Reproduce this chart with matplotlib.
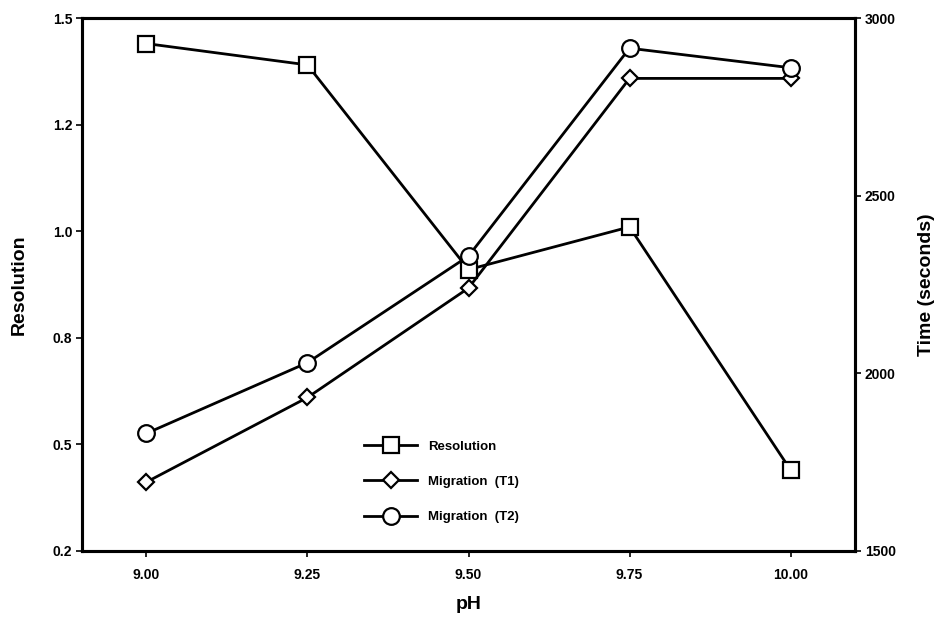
import matplotlib
matplotlib.use("Agg")
import matplotlib.pyplot as plt
from matplotlib.ticker import FormatStrFormatter

ph = [9.00, 9.25, 9.50, 9.75, 10.00]
resolution = [1.44, 1.39, 0.91, 1.01, 0.44]
migration_t1 = [1694, 1932, 2240, 2830, 2830]
migration_t2 = [1831, 2030, 2330, 2915, 2860]

left_ticks = [0.25, 0.5, 0.75, 1.0, 1.25, 1.5]
right_ticks = [1500, 2000, 2500, 3000]
x_ticks = [9.00, 9.25, 9.50, 9.75, 10.00]

plt.rcParams['font.family'] = ['Liberation Sans', 'DejaVu Sans']

fig = plt.figure(figsize=(9.45, 6.18), dpi=100)
ax = fig.add_axes([82/945, 1-551/618, (855-82)/945, (551-18)/618])
ax2 = ax.twinx()

lw = 2.0
l1, = ax.plot(ph, resolution, color='black', lw=lw, marker='s', ms=12,
              mfc='white', mec='black', mew=1.6, label='Resolution', zorder=3)
l2, = ax2.plot(ph, migration_t1, color='black', lw=lw, marker='D', ms=8,
               mfc='white', mec='black', mew=1.6, label='Migration  (T1)', zorder=3)
l3, = ax2.plot(ph, migration_t2, color='black', lw=lw, marker='o', ms=12,
               mfc='white', mec='black', mew=1.6, label='Migration  (T2)', zorder=3)

ax.set_xlim(8.9, 10.1)
ax.set_ylim(0.25, 1.5)
ax2.set_ylim(1500, 3000)
ax.set_xticks(x_ticks)
ax.set_yticks(left_ticks)
ax2.set_yticks(right_ticks)
ax.xaxis.set_major_formatter(FormatStrFormatter('%.2f'))
ax.yaxis.set_major_formatter(FormatStrFormatter('%.1f'))

for a in (ax, ax2):
    for s in a.spines.values():
        s.set_linewidth(2.2)
    a.tick_params(direction='out', length=4, width=1.2, labelsize=10, pad=3)
    for lab in a.get_xticklabels() + a.get_yticklabels():
        lab.set_fontweight('bold')
ax.tick_params(axis='x', pad=8)

ax.set_xlabel('pH', fontsize=14, fontweight='bold', labelpad=10)
ax.set_ylabel('Resolution', fontsize=14, fontweight='bold', labelpad=18)
ax2.set_ylabel('Time (seconds)', fontsize=14, fontweight='bold', labelpad=16)

leg = ax.legend(handles=[l1, l2, l3], loc='upper left', bbox_to_anchor=(0.35, 0.23),
                frameon=False, handlelength=4.0, labelspacing=1.75,
                prop={'weight': 'bold', 'size': 9.5}, handletextpad=0.8)

fig.savefig('out.png', dpi=100)
